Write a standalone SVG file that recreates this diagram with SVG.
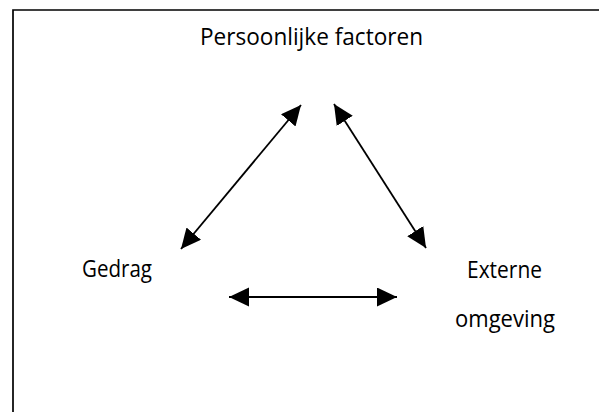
<svg xmlns="http://www.w3.org/2000/svg" width="599" height="412" viewBox="0 0 599 412">
  <style>
    .lbl { font-family: "Open Sans", "Noto Sans", "DejaVu Sans", sans-serif; font-size: 23px; fill: #000; }
    .conn { stroke: #000; stroke-width: 1.8; fill: none; }
    .frame { stroke: #000; stroke-width: 1.7; fill: none; }
  </style>
  <defs>
    <marker id="head" markerUnits="userSpaceOnUse" markerWidth="21" markerHeight="20" refX="20" refY="9.5" orient="auto-start-reverse" viewBox="0 0 21 20">
      <path d="M0,0 L20,9.5 L0,19 Z" fill="#000"/>
    </marker>
  </defs>
  <rect width="599" height="412" fill="#fff"/>
  <path class="frame" d="M13,412 V10 H599"/>
  <g id="node-persoonlijke">
    <text class="lbl" x="200" y="45" textLength="223" lengthAdjust="spacingAndGlyphs">Persoonlijke factoren</text>
  </g>
  <g id="node-gedrag">
    <text class="lbl" x="82" y="277" textLength="70" lengthAdjust="spacingAndGlyphs">Gedrag</text>
  </g>
  <g id="node-externe">
    <text class="lbl" x="467" y="278" textLength="75" lengthAdjust="spacingAndGlyphs">Externe</text>
    <text class="lbl" x="455" y="327" textLength="100" lengthAdjust="spacingAndGlyphs">omgeving</text>
  </g>
  <g id="connectors">
    <line class="conn" x1="181" y1="249" x2="301" y2="105" marker-start="url(#head)" marker-end="url(#head)"/>
    <line class="conn" x1="334" y1="104" x2="426" y2="248" marker-start="url(#head)" marker-end="url(#head)"/>
    <line class="conn" x1="229" y1="297" x2="397" y2="297" marker-start="url(#head)" marker-end="url(#head)"/>
  </g>
</svg>
